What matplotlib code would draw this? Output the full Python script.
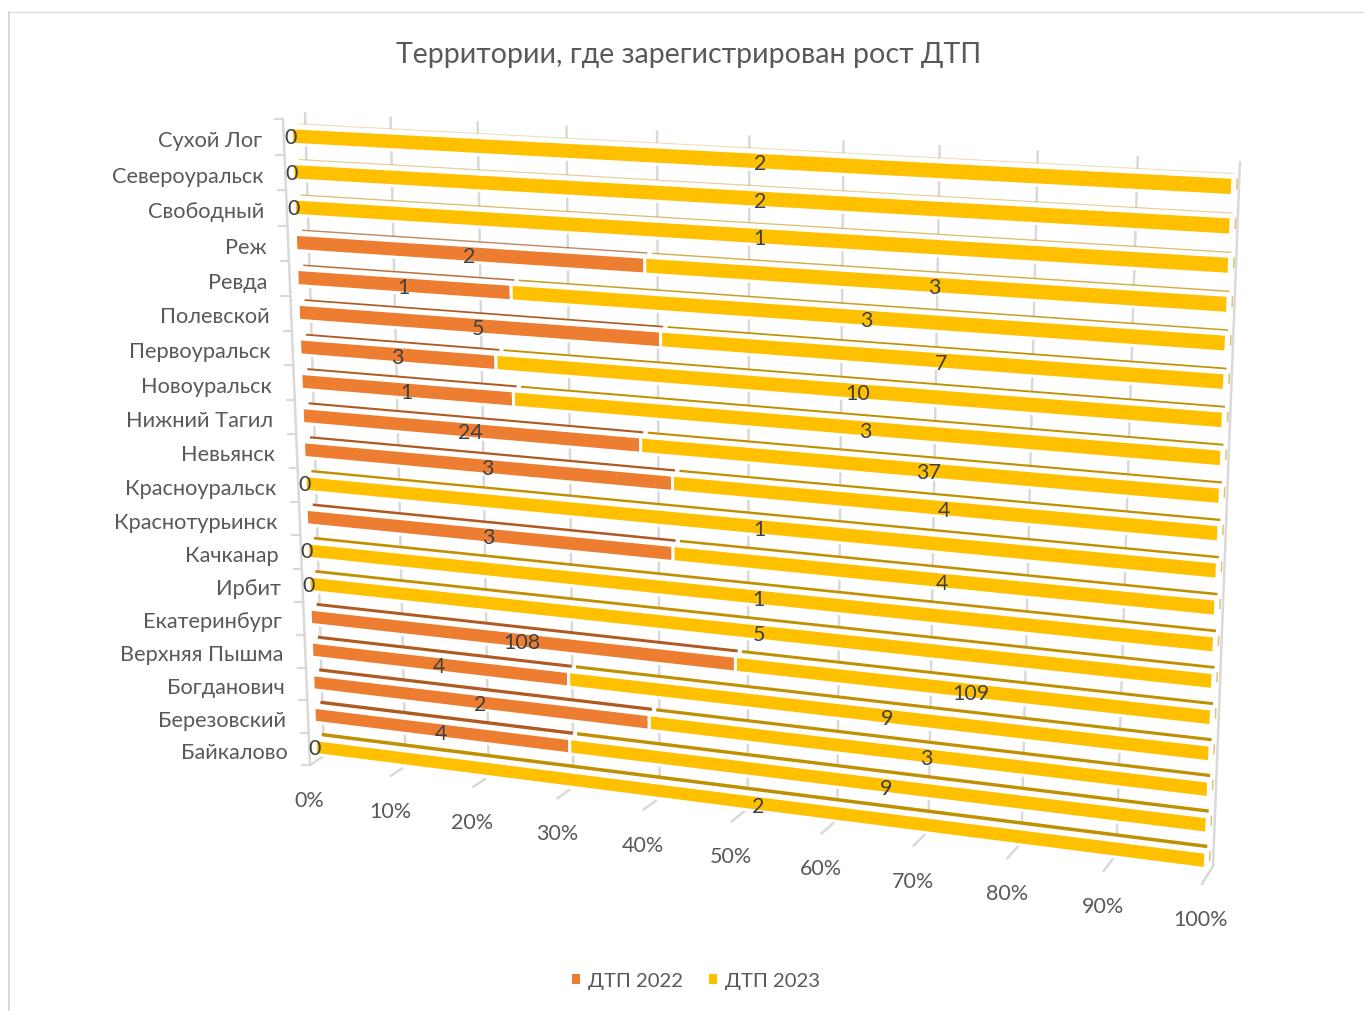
import numpy as np
import matplotlib
matplotlib.use("Agg")
import matplotlib.pyplot as plt
from matplotlib.patches import Patch
from matplotlib.transforms import Transform

territories = ["Байкалово", "Березовский", "Богданович", "Верхняя Пышма", "Екатеринбург",
               "Ирбит", "Качканар", "Краснотурьинск", "Красноуральск", "Невьянск",
               "Нижний Тагил", "Новоуральск", "Первоуральск", "Полевской", "Ревда",
               "Реж", "Свободный", "Североуральск", "Сухой Лог"]
dtp_2022 = [0, 4, 2, 4, 108, 0, 0, 3, 0, 3, 24, 1, 3, 5, 1, 2, 0, 0, 0]
dtp_2023 = [2, 9, 3, 9, 109, 5, 1, 4, 1, 4, 37, 3, 10, 7, 3, 3, 1, 2, 2]
pct_ticks = [0, 10, 20, 30, 40, 50, 60, 70, 80, 90, 100]

plt.rcParams["font.family"] = ["Lato", "Noto Sans"]

ORANGE = "#ED7D31"
YELLOW = "#FFC000"
ORANGE_DARK = "#AE5A21"
YELLOW_DARK = "#BF9000"
GRID = "#D9D9D9"
TEXT = "#595959"
LABEL = "#404040"
PX = 0.72  # points per pixel at dpi 100


class Perspective(Transform):
    """Maps (percent, row) onto a quadrilateral of the picture, like Excel's 3-D view."""
    input_dims = 2
    output_dims = 2

    def __init__(self, left_low, right_low, left_high, right_high, low, high):
        super().__init__()
        src = [(0, low), (100, low), (0, high), (100, high)]
        dst = [left_low, right_low, left_high, right_high]
        a, b = [], []
        for (u, v), (x, y) in zip(src, dst):
            a.append([u, v, 1, 0, 0, 0, -u * x, -v * x])
            a.append([0, 0, 0, u, v, 1, -u * y, -v * y])
            b += [x, y]
        self.h = np.append(np.linalg.solve(np.array(a, float), np.array(b, float)), 1).reshape(3, 3)

    def transform_non_affine(self, values):
        values = np.asarray(values, float)
        pts = np.column_stack([values, np.ones(len(values))]) @ self.h.T
        return pts[:, :2] / pts[:, 2:]


n = len(territories)
last = n - 1
front = Perspective((315.5, 748), (1205.5, 861.5), (291.5, 137), (1232.5, 187.5), 0, last)
back = Perspective((322, 742), (1207, 854.5), (298, 132), (1234, 182.5), 0, last)
wall = Perspective((310, 766), (1202, 885), (283, 120), (1229, 168), -0.5, n - 0.5)
grid = Perspective((324, 757), (1213, 867), (305, 113), (1240, 162), -0.5, n - 0.5)

fig = plt.figure(figsize=(13.64, 10.12), dpi=100)
ax = fig.add_axes([0, 0, 1, 1])
ax.set_xlim(0, 1364)
ax.set_ylim(1012, 0)
ax.axis("off")

# chart frame
ax.plot([9, 9], [13, 1012], color=GRID, lw=2 * PX)
ax.plot([9, 1364], [13, 13], color=GRID, lw=1.2 * PX)

ax.text(689, 55, "Территории, где зарегистрирован рост ДТП", ha="center", va="center",
        fontsize=20.6, color=TEXT)

# back wall gridlines, the bars cover most of them
t_grid = grid + ax.transData
for p in pct_ticks:
    ax.plot([p, p], [-0.5, n - 0.5], color=GRID, lw=2.5 * PX, transform=t_grid, zorder=1,
            solid_capstyle="butt")

# floor ticks and percent labels
for p in pct_ticks:
    near = wall.transform_non_affine([(p, -0.5)])[0]
    far = grid.transform_non_affine([(p, -0.5)])[0]
    d = 1.0 if p in (0, 100) else 0.75
    end = near + (far - near) * d
    ax.plot([near[0], end[0]], [near[1], end[1]], color=GRID, lw=2.5 * PX, zorder=1)
    ax.text(near[0] - 1, near[1] + 35, f"{p}%", ha="center", va="center", fontsize=15.5, color=TEXT)

# left wall with category ticks
t_wall = wall + ax.transData
ax.plot([0, 0], [-0.5, n - 0.5], color=GRID, lw=2.5 * PX, transform=t_wall, zorder=1)
for v in np.arange(-0.5, n):
    x, y = wall.transform_non_affine([(0, v)])[0]
    ax.plot([x - 8, x], [y, y], color=GRID, lw=2.2 * PX, zorder=1)
for i, name in enumerate(territories):
    x, y = wall.transform_non_affine([(0, i)])[0]
    ax.text(x - 22, y + 3, name, ha="right", va="center", fontsize=15.7, color=TEXT)

old = np.array(dtp_2022, float)
new = np.array(dtp_2023, float)
share_old = old / (old + new) * 100
share_new = 100 - share_old
rows = np.arange(n)
has_old = old > 0

t_front = front + ax.transData
t_back = back + ax.transData

# white body of each bar, hides the gridlines
ax.barh(rows, 100, height=0.4, left=0, color="white", linewidth=0, transform=t_back, zorder=2)

# back edges get stronger towards the bottom of the chart
for i in rows:
    alpha = min(1.0, 0.3 + (last - i) * 0.14)
    lw = (1 + (last - i) * 2.5 / last) * PX
    if has_old[i]:
        ax.plot([0, share_old[i] - 0.25], [i + 0.2, i + 0.2], color=ORANGE_DARK, alpha=alpha, lw=lw,
                transform=t_back, zorder=3, solid_capstyle="butt")
        start = share_old[i] + 0.25
    else:
        start = 0
    ax.plot([start, 100], [i + 0.2, i + 0.2], color=YELLOW_DARK, alpha=alpha, lw=lw,
            transform=t_back, zorder=3, solid_capstyle="butt")
    ax.plot([100.3, 100.3], [i - 0.2, i + 0.08], color=YELLOW_DARK, alpha=0.55, lw=1.5 * PX,
            transform=t_back, zorder=3, solid_capstyle="butt")

bars_old = ax.barh(rows[has_old], share_old[has_old], height=0.46, left=0, color=ORANGE,
                   edgecolor="white", linewidth=3 * PX, transform=t_front, zorder=4)
bars_new = ax.barh(rows, share_new, height=0.46, left=share_old, color=YELLOW,
                   edgecolor="white", linewidth=3 * PX, transform=t_front, zorder=4)

# Excel puts data labels at the middle of the projected segment
for i in rows:
    if has_old[i]:
        a, b = front.transform_non_affine([(0, i), (share_old[i], i)])
        x, y = (a + b) / 2
        ax.text(x - 1, y + 2, dtp_2022[i], ha="center", va="center", fontsize=15.5, color=LABEL, zorder=5)
    else:
        x, y = front.transform_non_affine([(0, i)])[0]
        ax.text(x - 1, y + 1, "0", ha="center", va="center", fontsize=15.5, color=LABEL, zorder=5)
    a, b = front.transform_non_affine([(share_old[i], i), (100, i)])
    x, y = (a + b) / 2
    ax.text(x - 2, y + 2, dtp_2023[i], ha="center", va="center", fontsize=15.5, color=LABEL, zorder=5)

ax.legend(handles=[Patch(color=ORANGE, lw=0, label="ДТП 2022"), Patch(color=YELLOW, lw=0, label="ДТП 2023")],
          ncol=2, loc="center", bbox_to_anchor=(696 / 1364, 1 - 982 / 1012), frameon=False,
          fontsize=14.6, labelcolor=TEXT, handlelength=0.38, handleheight=0.38, handletextpad=0.4,
          columnspacing=1.3)

plt.savefig("out.png", dpi=100)
